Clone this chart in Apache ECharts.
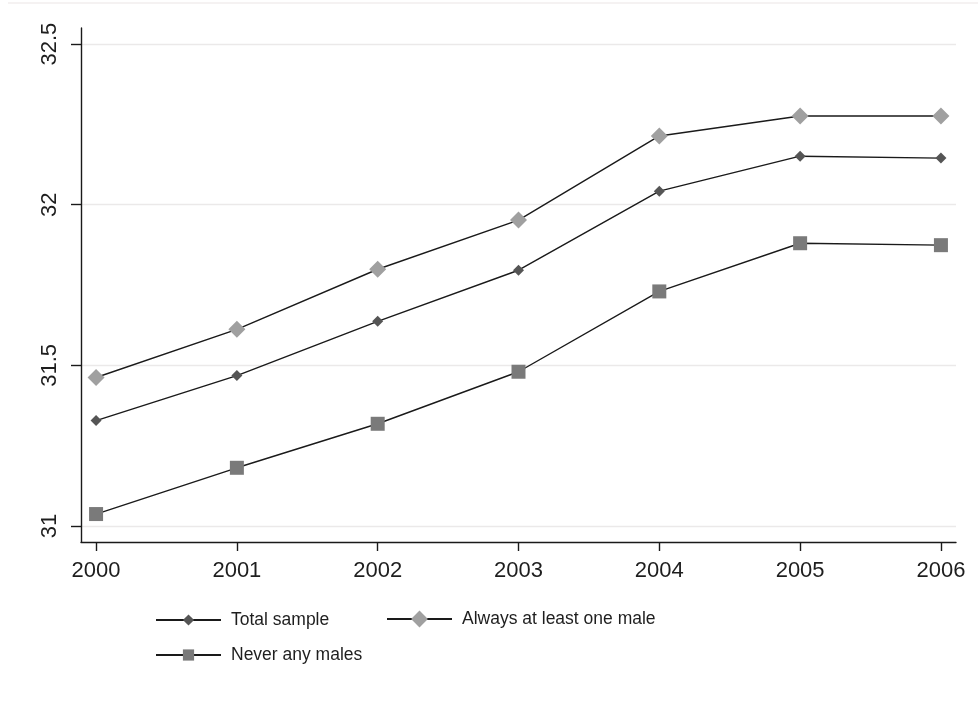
<!DOCTYPE html>
<html>
<head>
<meta charset="utf-8">
<script src="https://cdn.jsdelivr.net/npm/echarts@6/dist/echarts.min.js"></script>
<style>html,body{margin:0;padding:0;background:#fff;}#c{width:978px;height:704px;}</style>
</head>
<body>
<div id="c"></div>
<script>
const years = [2000, 2001, 2002, 2003, 2004, 2005, 2006];
const yTicks = [31, 31.5, 32, 32.5];
const seriesNames = ['Total sample', 'Always at least one male', 'Never any males'];
const totalSample = [31.328, 31.468, 31.637, 31.796, 32.042, 32.151, 32.145];
const alwaysMale = [31.462, 31.612, 31.799, 31.952, 32.214, 32.276, 32.276];
const neverMales = [31.037, 31.181, 31.318, 31.480, 31.730, 31.880, 31.874];

const pair = arr => years.map((y, i) => [y, arr[i]]);
const axisFont = '"Liberation Sans", Arial, sans-serif';
const legFont = '"Liberation Sans Narrow", "Liberation Sans", Arial, sans-serif';
const lineStyle = { color: '#1a1a1a', width: 1.4 };

const chart = echarts.init(document.getElementById('c'), null, { renderer: 'canvas' });

function legendFor(name, left, top, h) {
  return {
    data: [name], left: left, top: top, orient: 'horizontal',
    itemWidth: 65, itemHeight: h, padding: 0,
    textStyle: { fontFamily: legFont, fontSize: 17.5, color: '#1e1e1e', padding: [0, 0, 0, 5] },
    selectedMode: false
  };
}

chart.setOption({
  animation: false,
  backgroundColor: '#ffffff',
  graphic: [{ type: 'rect', left: 8, top: 2, shape: { width: 975, height: 2 }, style: { fill: '#f5f2f2' }, silent: true }],
  grid: { left: 81, right: 22, top: 28, bottom: 162, containLabel: false },
  xAxis: {
    type: 'value', min: 1999.893, max: 2006.107,
    axisLine: { show: true, lineStyle: { color: '#1a1a1a', width: 1.4 } },
    axisTick: { show: true, length: 9, customValues: years, lineStyle: { color: '#1a1a1a', width: 1.4 } },
    axisLabel: { customValues: years, margin: 18, fontFamily: axisFont, fontSize: 22, color: '#1e1e1e', formatter: v => String(Math.round(v)) },
    splitLine: { show: false }
  },
  yAxis: {
    type: 'value', min: 30.95, max: 32.55,
    axisLine: { show: true, lineStyle: { color: '#1a1a1a', width: 1.4 } },
    axisTick: { show: true, length: 10, customValues: yTicks, lineStyle: { color: '#1a1a1a', width: 1.4 } },
    axisLabel: { customValues: yTicks, rotate: 90, margin: 20, fontFamily: axisFont, fontSize: 22, color: '#1e1e1e', formatter: v => String(v) },
    splitLine: { show: true, lineStyle: { color: '#ebe9e9', width: 1.4 } }
  },
  legend: [
    legendFor(seriesNames[0], 155, 611, 14),
    legendFor(seriesNames[1], 386, 610, 21),
    legendFor(seriesNames[2], 155, 646, 14)
  ],
  series: [
    { name: seriesNames[0], type: 'line', data: pair(totalSample), symbol: 'diamond', symbolSize: [11, 11],
      itemStyle: { color: '#555555' }, lineStyle: lineStyle, z: 3 },
    { name: seriesNames[1], type: 'line', data: pair(alwaysMale), symbol: 'diamond', symbolSize: [17, 17],
      itemStyle: { color: '#a0a0a0' }, lineStyle: lineStyle, z: 3 },
    { name: seriesNames[2], type: 'line', data: pair(neverMales), symbol: 'rect', symbolSize: [14, 14],
      itemStyle: { color: '#7a7a7a' }, lineStyle: lineStyle, z: 3 }
  ]
});
</script>
</body>
</html>
